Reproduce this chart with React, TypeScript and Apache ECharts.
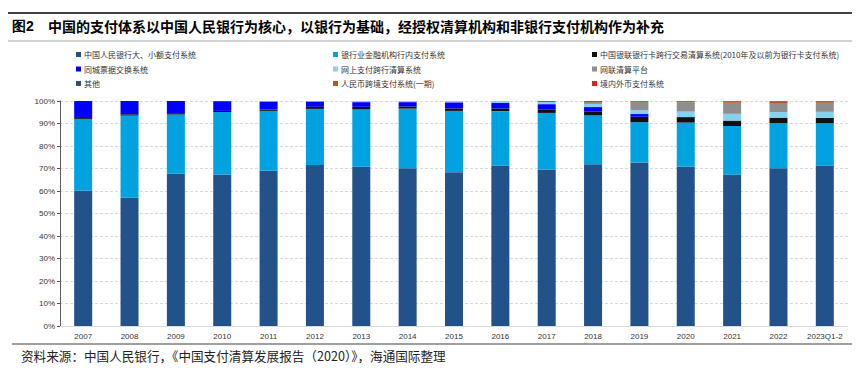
import React, { useEffect, useRef } from "react";
import * as echarts from "echarts";

const categories = ["2007", "2008", "2009", "2010", "2011", "2012", "2013", "2014", "2015", "2016", "2017", "2018", "2019", "2020", "2021", "2022", "2023Q1-2"];
const yTicks = [0, 10, 20, 30, 40, 50, 60, 70, 80, 90, 100];

const nameHvps = "中国人民银行大、小额支付系统";
const nameInner = "银行业金融机构行内支付系统";
const nameUnion = "中国银联银行卡跨行交易清算系统(2010年及以前为银行卡支付系统)";
const nameCity = "同城票据交换系统";
const nameOnline = "网上支付跨行清算系统";
const nameNets = "网联清算平台";
const nameOther = "其他";
const nameCips = "人民币跨境支付系统(一期)";
const nameFx = "境内外币支付系统";

const hvps = [60.1, 57.0, 67.7, 67.3, 69.0, 71.6, 70.8, 70.1, 68.3, 71.3, 69.6, 71.9, 72.7, 70.8, 67.3, 70.1, 71.3];
const inner = [31.9, 36.5, 26.3, 27.8, 26.6, 24.9, 25.6, 26.5, 27.3, 24.2, 25.1, 21.7, 17.9, 19.6, 21.6, 20.1, 18.8];
const union = [0.4, 0.6, 0.6, 0.5, 0.6, 0.9, 1.0, 1.0, 1.1, 1.2, 1.6, 1.8, 2.4, 2.1, 2.4, 2.4, 2.4];
const city = [7.6, 5.9, 5.4, 4.3, 3.6, 2.4, 2.1, 1.9, 2.7, 2.4, 2.3, 1.9, 1.2, 0.4, 0, 0, 0];
const online = [0, 0, 0, 0, 0.2, 0.2, 0.5, 0.5, 0.6, 0.9, 1.0, 1.4, 1.7, 2.4, 3.0, 2.5, 2.7];
const nets = [0, 0, 0, 0, 0, 0, 0, 0, 0, 0, 0, 0.9, 3.7, 4.2, 4.9, 4.0, 4.0];
const other = [0, 0, 0, 0.1, 0, 0, 0, 0, 0, 0, 0, 0, 0, 0, 0, 0, 0];
const cips = [0, 0, 0, 0, 0, 0, 0, 0, 0, 0, 0, 0, 0.1, 0.2, 0.5, 0.6, 0.5];
const fx = [0, 0, 0, 0, 0, 0, 0, 0, 0, 0, 0.4, 0.4, 0.3, 0.3, 0.3, 0.3, 0.3];

const seriesDefs = [
  { name: nameHvps, data: hvps, color: "#215289" },
  { name: nameInner, data: inner, color: "#00A2E0" },
  { name: nameUnion, data: union, color: "#111111" },
  { name: nameCity, data: city, color: "#0000FF" },
  { name: nameOnline, data: online, color: "#86D0F0" },
  { name: nameNets, data: nets, color: "#8E8E8E" },
  { name: nameOther, data: other, color: "#3A4E6E" },
  { name: nameCips, data: cips, color: "#B8551E" },
  { name: nameFx, data: fx, color: "#E02020" },
];

const legendCols = [
  { left: 76, names: [nameHvps, nameCity, nameOther] },
  { left: 333, names: [nameInner, nameOnline, nameCips] },
  { left: 592, names: [nameUnion, nameNets, nameFx] },
];

export default function App() {
  const ref = useRef<HTMLDivElement>(null);
  useEffect(() => {
    document.body.style.margin = "0";
    const chart = echarts.init(ref.current!, null, { renderer: "svg" });
    const cjk = "'Noto Sans CJK SC', 'Noto Sans', sans-serif";
    chart.setOption({
      animation: false,
      backgroundColor: "#ffffff",
      textStyle: { fontFamily: cjk },
      legend: legendCols.map((c) => ({
        orient: "vertical",
        left: c.left,
        top: 50,
        padding: 0,
        itemWidth: 5,
        itemHeight: 5,
        itemGap: 5.5,
        icon: "rect",
        selectedMode: false,
        data: c.names,
        textStyle: { fontSize: 8, color: "#333", lineHeight: 9, fontFamily: cjk, padding: [0, 0, 0, -2] },
      })),
      grid: { left: 60, right: 12, top: 101, bottom: 50 },
      xAxis: {
        type: "category",
        data: categories,
        axisLine: { show: true, lineStyle: { color: "#d9d9d9" } },
        axisTick: { show: false },
        axisLabel: { fontSize: 8, color: "#333", margin: 6, fontFamily: "'Liberation Sans', Arial, sans-serif", interval: 0 },
      },
      yAxis: {
        type: "value",
        min: yTicks[0],
        max: yTicks[yTicks.length - 1],
        interval: 10,
        axisLine: { show: true, lineStyle: { color: "#595959" } },
        axisTick: { show: true, length: 3, lineStyle: { color: "#595959" } },
        axisLabel: { fontSize: 8, color: "#333", margin: 5, formatter: "{value}%", fontFamily: "'Liberation Sans', Arial, sans-serif" },
        splitLine: { show: true, lineStyle: { color: "#d9d9d9", type: [3, 2] } },
      },
      series: seriesDefs.map((s) => ({
        name: s.name,
        type: "bar",
        stack: "total",
        barWidth: 18,
        data: s.data,
        itemStyle: { color: s.color },
      })),
      graphic: [
        { type: "line", shape: { x1: 8, y1: 13, x2: 852, y2: 13 }, style: { stroke: "#000", lineWidth: 1.3 } },
        {
          type: "text",
          left: 12,
          top: 19,
          style: { text: "图2", fontSize: 14, fontWeight: "bold", fill: "#000", fontFamily: "'Liberation Sans', Arial, sans-serif" },
        },
        {
          type: "text",
          left: 48,
          top: 19,
          style: { text: "中国的支付体系以中国人民银行为核心，以银行为基础，经授权清算机构和非银行支付机构作为补充", fontSize: 14, fontWeight: "bold", fill: "#000", fontFamily: cjk },
        },
        { type: "line", shape: { x1: 8, y1: 41, x2: 852, y2: 41 }, style: { stroke: "#a6a6a6", lineWidth: 1 } },
        { type: "line", shape: { x1: 12, y1: 344, x2: 852, y2: 344 }, style: { stroke: "#7f7f7f", lineWidth: 1.3 } },
        {
          type: "text",
          left: 21,
          top: 349,
          style: { text: "资料来源：中国人民银行，《中国支付清算发展报告（2020）》，海通国际整理", fontSize: 12.6, fill: "#222", fontFamily: cjk },
        },
      ],
    });
    return () => chart.dispose();
  }, []);
  return <div ref={ref} style={{ width: 860, height: 376 }} />;
}
